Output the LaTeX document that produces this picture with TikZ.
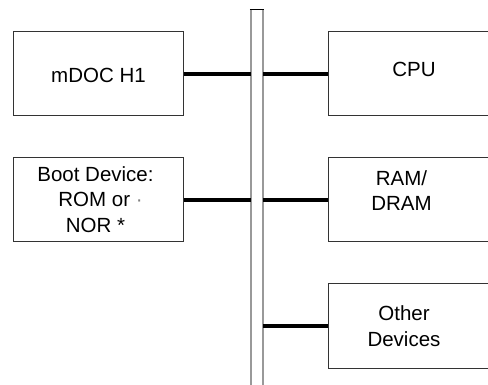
\documentclass[tikz,border=0pt]{standalone}
\usepackage{fontspec}
\setmainfont{Liberation Sans}
\begin{document}
\begin{tikzpicture}[x=1pt,y=-1pt,
  box/.style={draw=black!80, line width=1pt, minimum width=170pt, minimum height=84pt, inner sep=0pt},
  lbl/.style={font=\fontsize{20.5}{25.5}\selectfont, align=center, inner sep=0pt},
  wire/.style={line width=3.6pt},
  busside/.style={draw=gray!80, line width=1.8pt}]
\useasboundingbox (0,0) rectangle (488,385);
% boxes
\node[box] (mdoc) at (98,74) {};
\node[box] (boot) at (98,200) {};
\node[box] (cpu) at (413.5,74) {};
\node[box] (ram) at (413.5,200) {};
\node[box] (other) at (413.5,326) {};
% texts
\node[lbl, anchor=base] (tmdoc) at (98.5,83) {mDOC H1};
\node[lbl, anchor=base] (tcpu) at (414,77) {CPU};
\node[lbl, anchor=north] (tboot) at (95.5,166) {Boot Device:\\\hspace*{10pt}ROM or \textcolor{gray}{·}\\NOR *};
\node[lbl, anchor=north] (tram) at (401.5,170.3) {RAM/\\DRAM};
\node[lbl, anchor=north] (tother) at (404,305.5) {Other\\Devices};
% bus
\node[fill=white, minimum width=12pt, minimum height=390pt, inner sep=0pt, anchor=north] (bus) at (257,9.5) {};
\draw[busside] (bus.south west) -- (bus.north west);
\draw[busside] (bus.south east) -- (bus.north east);
\draw[line width=1pt] ([xshift=-0.9pt]bus.north west) -- ([xshift=0.9pt]bus.north east);
% wires
\draw[wire] (mdoc.east) -- (mdoc.east -| bus.west);
\draw[wire] (bus.east |- cpu.west) -- (cpu.west);
\draw[wire] (boot.east) -- (boot.east -| bus.west);
\draw[wire] (bus.east |- ram.west) -- (ram.west);
\draw[wire] (bus.east |- other.west) -- (other.west);
\end{tikzpicture}
\end{document}
